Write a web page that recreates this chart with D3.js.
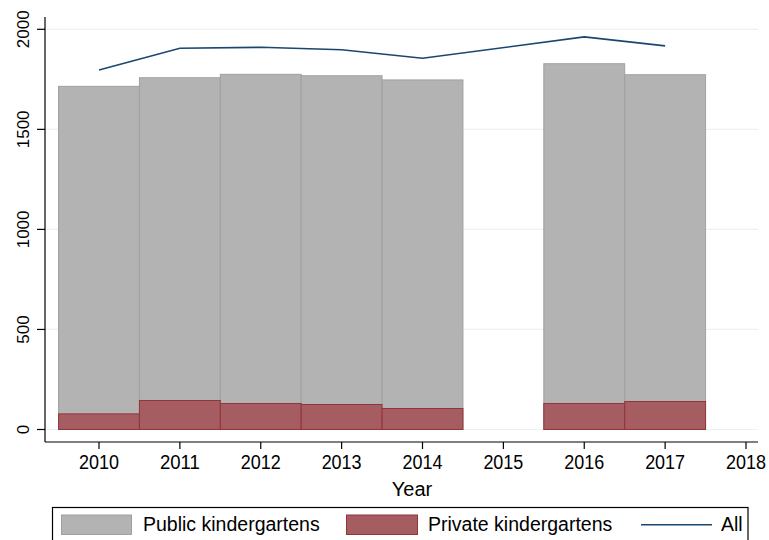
<!DOCTYPE html>
<html>
<head>
<meta charset="utf-8">
<script src="https://cdn.jsdelivr.net/npm/d3@7"></script>
<style>
  html, body { margin: 0; padding: 0; background: #fff; }
  svg { display: block; font-family: "Liberation Sans", Arial, Helvetica, sans-serif; }
</style>
</head>
<body>
<svg id="chart" width="769" height="540"></svg>
<script>
// ---- data ----
const years = [2010, 2011, 2012, 2013, 2014, 2016, 2017];
const publicKg = [1715, 1758, 1775, 1768, 1747, 1828, 1773];
const privateKg = [78, 145, 130, 125, 105, 130, 140];
const allKg = [1797, 1905, 1910, 1898, 1855, 1962, 1917];
const xTicks = [2010, 2011, 2012, 2013, 2014, 2015, 2016, 2017, 2018];
const yTicks = [0, 500, 1000, 1500, 2000];
const seriesNames = ["Public kindergartens", "Private kindergartens", "All"];
const xTitle = "Year";

// ---- layout ----
const svg = d3.select("#chart");
const plotLeft = 45, plotRight = 758, plotTop = 17, plotBottom = 442;
const x = d3.scaleLinear().domain([2010, 2018]).range([99, 746]);
const y = d3.scaleLinear().domain([0, 2000]).range([429.5, 29.3]);
const halfW = (x(2011) - x(2010)) / 2;

const colPublicFill = "#b3b3b3", colPublicStroke = "#a0a0a0";
const colPrivFill = "#a65d62", colPrivStroke = "#90353b";
const colLine = "#1a476f";

// gridlines
svg.append("g").selectAll("line").data(yTicks).join("line")
  .attr("x1", plotLeft).attr("x2", plotRight)
  .attr("y1", d => y(d)).attr("y2", d => y(d))
  .attr("stroke", "#eaf2f3").attr("stroke-width", 1.2);

const rows = years.map((yr, i) => ({ yr, pub: publicKg[i], priv: privateKg[i], all: allKg[i] }));

// public bars
svg.append("g").selectAll("rect").data(rows).join("rect")
  .attr("x", d => x(d.yr) - halfW).attr("width", 2 * halfW)
  .attr("y", d => y(d.pub)).attr("height", d => y(0) - y(d.pub))
  .attr("fill", colPublicFill).attr("stroke", colPublicStroke).attr("stroke-width", 1);

// private bars
svg.append("g").selectAll("rect").data(rows).join("rect")
  .attr("x", d => x(d.yr) - halfW).attr("width", 2 * halfW)
  .attr("y", d => y(d.priv)).attr("height", d => y(0) - y(d.priv))
  .attr("fill", colPrivFill).attr("stroke", colPrivStroke).attr("stroke-width", 1);

// line
svg.append("path").datum(rows)
  .attr("d", d3.line().x(d => x(d.yr)).y(d => y(d.all)))
  .attr("fill", "none").attr("stroke", colLine).attr("stroke-width", 1.6);

// y axis
const yAxis = svg.append("g");
yAxis.append("line").attr("x1", plotLeft).attr("x2", plotLeft)
  .attr("y1", plotTop).attr("y2", plotBottom).attr("stroke", "#000").attr("stroke-width", 1.2);
yAxis.selectAll("line.tick").data(yTicks).join("line").attr("class", "tick")
  .attr("x1", plotLeft - 8).attr("x2", plotLeft)
  .attr("y1", d => y(d)).attr("y2", d => y(d))
  .attr("stroke", "#000").attr("stroke-width", 1.2);
yAxis.selectAll("text").data(yTicks).join("text")
  .attr("transform", d => `translate(28.5,${y(d)}) rotate(-90)`)
  .attr("text-anchor", "middle")
  .attr("font-size", 17).attr("fill", "#000")
  .text(d => d);

// x axis
const xAxis = svg.append("g");
xAxis.append("line").attr("x1", plotLeft).attr("x2", plotRight)
  .attr("y1", plotBottom).attr("y2", plotBottom).attr("stroke", "#000").attr("stroke-width", 1.2);
xAxis.selectAll("line.tick").data(xTicks).join("line").attr("class", "tick")
  .attr("x1", d => x(d)).attr("x2", d => x(d))
  .attr("y1", plotBottom).attr("y2", plotBottom + 7)
  .attr("stroke", "#000").attr("stroke-width", 1.2);
xAxis.selectAll("text").data(xTicks).join("text")
  .attr("x", d => x(d) - 20).attr("y", 469)
  .attr("font-size", 20.5).attr("fill", "#000")
  .attr("textLength", 40).attr("lengthAdjust", "spacingAndGlyphs")
  .text(d => d);
svg.append("text").attr("x", 412).attr("y", 496)
  .attr("text-anchor", "middle").attr("font-size", 20).attr("fill", "#000")
  .text(xTitle);

// legend
const leg = svg.append("g");
leg.append("rect").attr("x", 52.5).attr("y", 507.5).attr("width", 695.5).attr("height", 45)
  .attr("fill", "#fff").attr("stroke", "#000").attr("stroke-width", 1.2);
leg.append("rect").attr("x", 61.5).attr("y", 515).attr("width", 70).attr("height", 19.5)
  .attr("fill", colPublicFill).attr("stroke", colPublicStroke);
leg.append("text").attr("x", 143).attr("y", 531).attr("font-size", 19.5).text(seriesNames[0]);
leg.append("rect").attr("x", 346.5).attr("y", 515).attr("width", 71).attr("height", 19.5)
  .attr("fill", colPrivFill).attr("stroke", colPrivStroke);
leg.append("text").attr("x", 428).attr("y", 531).attr("font-size", 19.5).text(seriesNames[1]);
leg.append("line").attr("x1", 641).attr("x2", 712).attr("y1", 524.7).attr("y2", 524.7)
  .attr("stroke", colLine).attr("stroke-width", 1.6);
leg.append("text").attr("x", 721).attr("y", 531).attr("font-size", 19.5).text(seriesNames[2]);
</script>
</body>
</html>
